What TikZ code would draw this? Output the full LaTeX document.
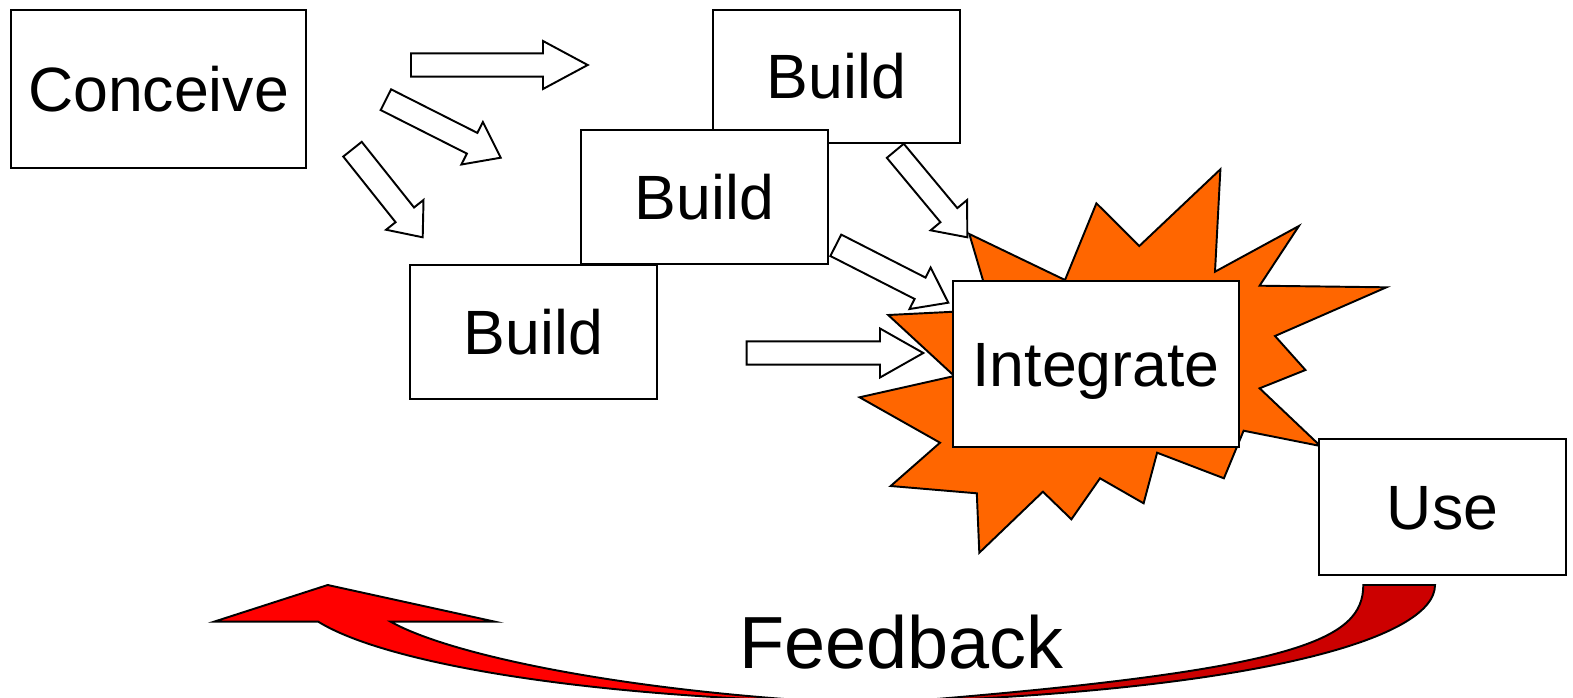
\documentclass[tikz,border=0pt]{standalone}
\usepackage{fontspec}
\setmainfont{Liberation Sans}
\usetikzlibrary{calc}
\definecolor{burst}{HTML}{FF6600}
\definecolor{fbred}{HTML}{FF0000}
\definecolor{fbdark}{HTML}{CC0000}
\newcommand\blockarr[5]{%
  \path ($(#2)!#5!(#1)$) coordinate (nk);
  \draw[barr] ($(#1)!#3!90:(#2)$) -- ($(nk)!#3!90:(#2)$) -- ($(nk)!#4!90:(#2)$) -- (#2)
    -- ($(nk)!#4!-90:(#2)$) -- ($(nk)!#3!-90:(#2)$) -- ($(#1)!#3!-90:(#2)$) -- cycle;
}
\begin{document}
\begin{tikzpicture}[x=0.01cm,y=-0.01cm,
  box/.style={draw=black, fill=white, line width=0.6pt, inner sep=0pt,
    font=\fontsize{17.8}{20}\selectfont, text height=12.7pt, text depth=0pt},
  barr/.style={draw=black, fill=white, line width=0.55pt, line join=miter},
  burststyle/.style={draw=black, fill=burst, line width=0.55pt},
  fbstyle/.style={draw=black, line width=0.55pt}]
\useasboundingbox (0,0) rectangle (1573,697);

% Conceive and block arrows
\node[box, minimum width=2.95cm, minimum height=1.58cm] (conceive) at (158.5,89) {Conceive};
\coordinate (a1s) at (411,65);      \coordinate (a1e) at (587.7,65);
\coordinate (a2s) at (385.9,99.7);  \coordinate (a2e) at (500.7,157.7);
\coordinate (a3s) at (352.5,149.2); \coordinate (a3e) at (422.7,237.3);
\blockarr{a1s}{a1e}{0.117cm}{0.24cm}{0.447cm}
\blockarr{a2s}{a2e}{0.116cm}{0.238cm}{0.32cm}
\blockarr{a3s}{a3e}{0.118cm}{0.239cm}{0.287cm}

% Build boxes
\node[box, minimum width=2.47cm, minimum height=1.33cm] (build1) at (836.5,76.5) {Build};
\node[box, minimum width=2.47cm, minimum height=1.34cm] (build2) at (704.5,197) {Build};
\node[box, minimum width=2.47cm, minimum height=1.34cm] (build3) at (533.5,332) {Build};

% Starburst
\filldraw[burststyle] (969.3,234) -- (1065,280) -- (1096.4,203.3) -- (1139.3,246) -- (1220.4,169.3)
  -- (1215,271.7) -- (1298.9,226) -- (1259.6,285.7) -- (1386.4,287.3) -- (1275,336)
  -- (1305.4,370) -- (1259.6,388.3) -- (1320.4,446) -- (1243.6,430.7) -- (1223.9,478.3)
  -- (1157.1,452.7) -- (1143.6,503.3) -- (1100,478.3) -- (1071.4,519.3) -- (1042.9,491.7)
  -- (979.3,552.7) -- (976.8,493.3) -- (890.7,486) -- (940,442.7) -- (859.6,397.3)
  -- (954.3,376) -- (888.2,315) -- (954.3,311.7) -- (982.9,280) -- cycle;

\node[box, minimum width=2.86cm, minimum height=1.66cm] (integrate) at (1096,364) {Integrate};

\coordinate (a4s) at (895.3,150.8); \coordinate (a4e) at (967.3,237.3);
\coordinate (a5s) at (835.8,245.3); \coordinate (a5e) at (948.3,302.7);
\coordinate (a6s) at (746.7,353);   \coordinate (a6e) at (923.3,353);
\blockarr{a4s}{a4e}{0.11cm}{0.237cm}{0.288cm}
\blockarr{a5s}{a5e}{0.12cm}{0.233cm}{0.317cm}
\blockarr{a6s}{a6e}{0.117cm}{0.245cm}{0.433cm}

\node[box, minimum width=2.47cm, minimum height=1.36cm] (use) at (1442.5,507) {Use};

% Feedback arrow
\begin{scope}
\clip (0,0) rectangle (1573,697);
\filldraw[fbstyle, fill=fbred] (327.7,585) -- (495,621.7) -- (390.7,621.7)
  .. controls (450,655) and (620,690) .. (830,702)
  .. controls (560,695) and (380,660) .. (318.3,621.7) -- (214,621.7) -- cycle;
\filldraw[fbstyle, fill=fbdark] (1363.3,585) -- (1435,585)
  .. controls (1435,640) and (1250,690) .. (900,702)
  .. controls (1300,670) and (1363,640) .. (1363.3,585) -- cycle;
\end{scope}
\node[font=\fontsize{21}{24}\selectfont, inner sep=0pt, anchor=base] (fb) at (901.5,668) {Feedback};
\end{tikzpicture}
\end{document}
